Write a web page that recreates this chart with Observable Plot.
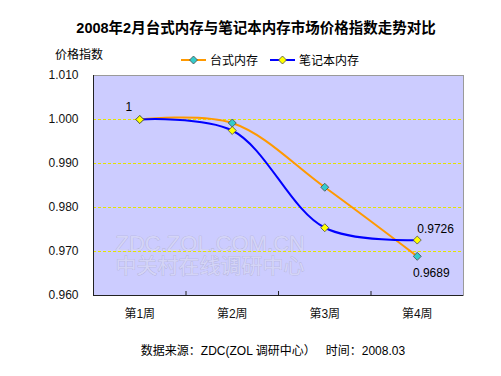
<!DOCTYPE html>
<html>
<head>
<meta charset="utf-8">
<script src="https://cdn.jsdelivr.net/npm/d3@7"></script>
<script src="https://cdn.jsdelivr.net/npm/@observablehq/plot@0.6"></script>
<style>
  html, body { margin: 0; padding: 0; background: #fff; }
  #wrap { position: relative; width: 501px; height: 376px; overflow: hidden;
    font-family: "Liberation Sans", Arial, "Noto Sans CJK SC", sans-serif; color: #000; }
  #wrap svg { position: absolute; left: 0; top: 0; }
  .abs { position: absolute; white-space: pre; line-height: 1; }
  #title { left: 0; width: 512px; top: 21px; text-align: center; font-size: 14.5px; font-weight: bold; }
  #ytitle { left: 55px; top: 49px; font-size: 12px; }
  #caption { left: 0; width: 546px; top: 345px; text-align: center; font-size: 12px; }
</style>
</head>
<body>
<div id="wrap">
  <div id="chart"></div>
  <div id="title" class="abs">2008年2月台式内存与笔记本内存市场价格指数走势对比</div>
  <div id="ytitle" class="abs">价格指数</div>
  <div id="legend"></div>
  <div id="caption" class="abs">数据来源：ZDC(ZOL 调研中心）   时间：2008.03</div>
</div>
<script>
// ---- data ----
const weeks = ["第1周", "第2周", "第3周", "第4周"];
const seriesNames = ["台式内存", "笔记本内存"];
const desktop = [1.0000, 0.9992, 0.9846, 0.9689];
const notebook = [1.0000, 0.9975, 0.9754, 0.9726];
const yTicks = [0.960, 0.970, 0.980, 0.990, 1.000, 1.010];
const gridValues = [0.970, 0.980, 0.990, 1.000];
const lineColors = ["#FF9900", "#0000FF"];
const markerColors = ["#33CCCC", "#FFFF00"];

const rows = [];
[desktop, notebook].forEach((vals, s) => {
  vals.forEach((v, i) => rows.push({ series: seriesNames[s], s, week: weeks[i], xi: i + 1, value: v }));
});
const desk = rows.filter(d => d.s === 0);
const note = rows.filter(d => d.s === 1);

const firstLabel = [note[0]];
const lastNote = [note[note.length - 1]];
const lastDesk = [desk[desk.length - 1]];

const font = '"Liberation Sans", Arial, "Noto Sans CJK SC", sans-serif';

const chart = Plot.plot({
  width: 501,
  height: 376,
  marginLeft: 93,
  marginRight: 38,
  marginTop: 75,
  marginBottom: 81,
  style: { fontFamily: font, fontSize: "12px", background: "transparent", overflow: "visible" },
  x: { type: "linear", domain: [0.5, weeks.length + 0.5], label: null },
  y: { domain: [0.960, 1.010], label: null },
  marks: [
    Plot.frame({ fill: "#CCCCFF", stroke: "#9a9a9a" }),
    Plot.text(["ZDC.ZOL.COM.CN"], { frameAnchor: "bottom-left", dx: 22, dy: -45, text: d => d, textAnchor: "start",
      fontSize: 22, fill: "#d4d4f6", stroke: "#acacd0", strokeWidth: 0.6 }),
    Plot.text(["中关村在线调研中心"], { frameAnchor: "bottom-left", dx: 22, dy: -23, text: d => d, textAnchor: "start",
      fontSize: 21, fill: "#d4d4f6", stroke: "#acacd0", strokeWidth: 0.6 }),
    Plot.ruleY(gridValues, { stroke: "#E4E400", strokeWidth: 1, strokeDasharray: "3,2" }),
    Plot.ruleX([0.5], { stroke: "#222" }),
    Plot.ruleY([0.960], { stroke: "#222" }),
    Plot.ruleX([1.5, 2.5, 3.5], { stroke: "#222", insetTop: 216 }),
    Plot.axisY(yTicks, { tickSize: 0, tickPadding: 15, tickFormat: d3.format(".3f"), fontSize: 12, fill: "#111", label: null }),
    Plot.axisX([1, 2, 3, 4], { tickSize: 0, tickPadding: 14, tickFormat: d => weeks[d - 1], fontSize: 12, fill: "#111", label: null }),
    Plot.line(desk, { x: "xi", y: "value", stroke: lineColors[0], strokeWidth: 2, curve: "catmull-rom" }),
    Plot.line(note, { x: "xi", y: "value", stroke: lineColors[1], strokeWidth: 2, curve: "catmull-rom" }),
    Plot.dot(desk, { x: "xi", y: "value", symbol: "diamond2", r: 3.6, fill: markerColors[0], stroke: "#4a4a4a", strokeWidth: 0.8 }),
    Plot.dot(note, { x: "xi", y: "value", symbol: "diamond2", r: 3.6, fill: markerColors[1], stroke: "#4a4a4a", strokeWidth: 0.8 }),
    Plot.text(firstLabel, { x: "xi", y: "value", text: d => d3.format("")(d.value), dx: -11, dy: -12, fontSize: 12, fill: "#000" }),
    Plot.text(lastNote, { x: "xi", y: "value", text: d => d3.format(".4f")(d.value), dx: 0, dy: -11, textAnchor: "start", fontSize: 12, fill: "#000" }),
    Plot.text(lastDesk, { x: "xi", y: "value", text: d => d3.format(".4f")(d.value), dx: 14, dy: 17, fontSize: 12, fill: "#000" })
  ]
});
document.getElementById("chart").appendChild(chart);

// ---- legend ----
const lg = d3.select("#legend").append("svg")
  .attr("width", 501).attr("height", 80)
  .style("position", "absolute").style("left", 0).style("top", 0)
  .style("font-family", font).style("font-size", "12px");
const legendX = [181, 270];
const textX = [210, 299];
seriesNames.forEach((name, i) => {
  const g = lg.append("g");
  g.append("line").attr("x1", legendX[i]).attr("x2", legendX[i] + 25).attr("y1", 60).attr("y2", 60)
    .attr("stroke", lineColors[i]).attr("stroke-width", 2);
  const cx = legendX[i] + 12.5;
  g.append("path").attr("d", `M${cx},56 L${cx + 4},60 L${cx},64 L${cx - 4},60 Z`)
    .attr("fill", markerColors[i]).attr("stroke", "#4a4a4a").attr("stroke-width", 0.8);
  g.append("text").attr("x", textX[i]).attr("y", 64.5).text(name);
});
</script>
</body>
</html>
